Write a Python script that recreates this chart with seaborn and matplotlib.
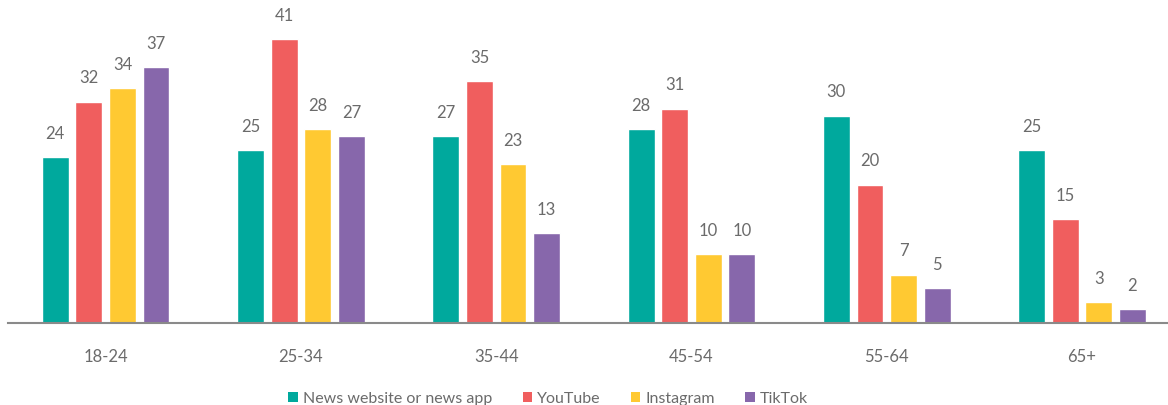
import matplotlib
matplotlib.use("Agg")
import matplotlib.pyplot as plt
import seaborn as sns
import pandas as pd
from matplotlib.patches import Patch

age_groups = ["18-24", "25-34", "35-44", "45-54", "55-64", "65+"]
series_names = ["News website or news app", "YouTube", "Instagram", "TikTok"]
news_site = [24, 25, 27, 28, 30, 25]
youtube = [32, 41, 35, 31, 20, 15]
instagram = [34, 28, 23, 10, 7, 3]
tiktok = [37, 27, 13, 10, 5, 2]
colors = ["#00A99D", "#F05E5E", "#FFC932", "#8767AB"]

rows = []
for name, vals in zip(series_names, [news_site, youtube, instagram, tiktok]):
    for g, v in zip(age_groups, vals):
        rows.append({"Age": g, "Source": name, "Value": v})
df = pd.DataFrame(rows)

sns.set_theme(style="white")
plt.rcParams["font.family"] = ["Lato", "DejaVu Sans"]
text_color = "#6b6b6b"

fig = plt.figure(figsize=(11.68, 4.05), dpi=100)
ax = fig.add_axes([8 / 1168, 82 / 405, 1160 / 1168, 323 / 405])

sns.barplot(data=df, x="Age", y="Value", hue="Source", order=age_groups,
            hue_order=series_names, palette=colors, width=0.688, gap=0.2,
            saturation=1, ax=ax, legend=False)

for cont in ax.containers:
    ax.bar_label(cont, padding=11, fontsize=12, color=text_color)

ax.set_xlim(-0.5, 5.44)
ax.set_ylim(0, 46.7)
ax.set_xlabel("")
ax.set_ylabel("")
ax.set_yticks([])
for s in ["top", "right", "left"]:
    ax.spines[s].set_visible(False)
ax.spines["bottom"].set_color("#8a8a8a")
ax.spines["bottom"].set_linewidth(1.5)
ax.tick_params(axis="x", length=0, pad=19, labelsize=12, labelcolor=text_color)

handles = [Patch(facecolor=c, edgecolor="none", label=n) for c, n in zip(colors, series_names)]
fig.legend(handles=handles, loc="center", bbox_to_anchor=(548 / 1168, 6 / 405),
           ncol=4, frameon=False, fontsize=11.5, labelcolor=text_color,
           handlelength=0.6, handleheight=0.6, handletextpad=0.3,
           columnspacing=1.9)

fig.savefig("out.png", dpi=100)
